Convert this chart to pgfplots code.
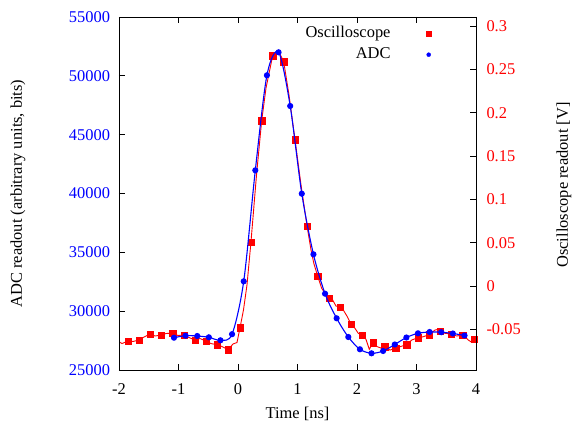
\documentclass[border=0pt]{standalone}
\usepackage{fontspec}
\setmainfont{Liberation Serif}
\usepackage{pgfplots}
\usepackage{pgfplotstable}
\pgfplotsset{compat=1.18}

\pgfplotstableread{
x y
-2.000 -0.0643
-1.950 -0.0664
-1.849 -0.0635
-1.765 -0.0640
-1.664 -0.0623
-1.580 -0.0589
-1.479 -0.0554
-1.395 -0.0577
-1.294 -0.0565
-1.210 -0.0548
-1.097 -0.0542
-1.008 -0.0571
-0.908 -0.0565
-0.824 -0.0594
-0.723 -0.0623
-0.639 -0.0606
-0.538 -0.0635
-0.454 -0.0664
-0.353 -0.0677
-0.269 -0.0698
-0.168 -0.0735
-0.084 -0.0669
-0.017 -0.0652
0.034 -0.0481
0.092 -0.0277
0.151 0.0012
0.218 0.0508
0.311 0.1281
0.398 0.1908
0.471 0.2285
0.583 0.2658
0.677 0.2718
0.768 0.2588
0.857 0.2204
0.958 0.1688
1.059 0.1166
1.160 0.0692
1.227 0.0415
1.277 0.0254
1.339 0.0115
1.407 -0.0027
1.462 -0.0084
1.529 -0.0138
1.591 -0.0162
1.647 -0.0231
1.714 -0.0242
1.770 -0.0277
1.837 -0.0354
1.899 -0.0439
1.966 -0.0488
2.022 -0.0546
2.084 -0.0565
2.151 -0.0615
2.207 -0.0730
2.269 -0.0654
2.341 -0.0700
2.415 -0.0719
2.466 -0.0700
2.555 -0.0739
2.650 -0.0715
2.723 -0.0700
2.835 -0.0677
2.919 -0.0623
3.025 -0.0597
3.114 -0.0585
3.210 -0.0562
3.311 -0.0508
3.366 -0.0500
3.395 -0.0519
3.479 -0.0546
3.585 -0.0554
3.676 -0.0577
3.776 -0.0565
3.871 -0.0623
3.928 -0.0650
3.966 -0.0612
4.000 -0.0604
}\scopeline

\pgfplotstableread{
x y
-1.849 -0.0635
-1.664 -0.0623
-1.479 -0.0554
-1.294 -0.0565
-1.097 -0.0542
-0.908 -0.0565
-0.723 -0.0623
-0.538 -0.0635
-0.353 -0.0677
-0.168 -0.0735
0.034 -0.0481
0.218 0.0508
0.398 0.1908
0.583 0.2658
0.768 0.2588
0.958 0.1688
1.160 0.0692
1.339 0.0115
1.529 -0.0138
1.714 -0.0242
1.899 -0.0439
2.084 -0.0565
2.269 -0.0654
2.466 -0.0700
2.650 -0.0715
2.835 -0.0677
3.025 -0.0597
3.210 -0.0562
3.395 -0.0519
3.585 -0.0554
3.776 -0.0565
3.966 -0.0612
}\scopepts

\pgfplotstableread{
x y
-1.076 27745
-0.881 27915
-0.685 27890
-0.490 27779
-0.295 27524
-0.100 28043
0.096 32538
0.291 41972
0.486 50046
0.682 52000
0.877 47436
1.072 39983
1.268 34833
1.463 31485
1.658 29394
1.854 27805
2.049 26760
2.244 26419
2.439 26615
2.635 27167
2.830 27762
3.025 28119
3.221 28229
3.416 28212
3.611 28102
3.807 27932
}\adcpts

\pgfplotsset{
  common/.style={
    width=357bp, height=353bp, scale only axis,
    xmin=-2, xmax=4,
    tick align=inside, major tick length=6bp,
    axis line style={line width=0.7bp},
    every tick/.style={black, line width=0.7bp},
    clip mode=individual,
    scaled ticks=false,
  }
}

\begin{document}
\begin{tikzpicture}[font=\fontsize{16.5}{19.8}\selectfont]
\begin{axis}[common,
  name=scope,
  ymin=-0.0969, ymax=0.3104,
  axis x line=none, axis y line*=right,
  ytick={-0.05,0,0.05,0.1,0.15,0.2,0.25,0.3},
  yticklabels={-0.05,0,0.05,0.1,0.15,0.2,0.25,0.3},
  yticklabel style={red, xshift=7bp},
  ylabel={Oscilloscope readout [V]},
  every axis y label/.style={overlay, at={(rel axis cs:1,0.5)}, xshift=88bp, yshift=8.5bp, rotate=90, anchor=center},
]
\addplot[red, line width=0.9bp, forget plot] table[x=x,y=y] {\scopeline};
\addplot[red, only marks, mark=square*, mark size=3.2bp, forget plot] table[x=x,y=y] {\scopepts};
\end{axis}
\begin{axis}[common,
  name=adc,
  ymin=25000, ymax=55000,
  xtick={-2,-1,0,1,2,3,4}, xticklabels={-2,-1,0,1,2,3,4},
  xtick pos=both, xticklabel pos=bottom,
  ytick={25000,30000,35000,40000,45000,50000,55000},
  yticklabels={25000,30000,35000,40000,45000,50000,55000},
  ytick pos=left,
  yticklabel style={blue, xshift=-5.5bp},
  xticklabel style={yshift=-10.5bp},
  xlabel={Time [ns]},
  ylabel={ADC readout (arbitrary units, bits)},
  every axis x label/.style={overlay, at={(rel axis cs:0.5,0)}, anchor=center, yshift=-44bp},
  every axis y label/.style={overlay, at={(rel axis cs:0,0.5)}, xshift=-101bp, rotate=90, anchor=center},
  legend style={draw=none, fill=none, at={(rel axis cs:1,1)}, anchor=north east,
    xshift=-41.6bp, yshift=-5bp, row sep=2bp, column sep=33.7bp,
    nodes={inner sep=2bp, text height=11bp, text depth=4bp}},
  legend cell align=right,
  legend plot pos=right,
]
\addlegendimage{red, only marks, mark=square*, mark size=2.5bp}
\addlegendentry{Oscilloscope}
\addlegendimage{blue, only marks, mark=*, mark size=2bp}
\addlegendentry{ADC}
\addplot[blue, line width=1.1bp, smooth, mark=*, mark size=2.5bp, forget plot] table[x=x,y=y] {\adcpts};
\end{axis}
\path ([xshift=-119bp,yshift=-56bp]adc.south west) rectangle ([xshift=96bp,yshift=17bp]adc.north east);
\end{tikzpicture}
\end{document}
